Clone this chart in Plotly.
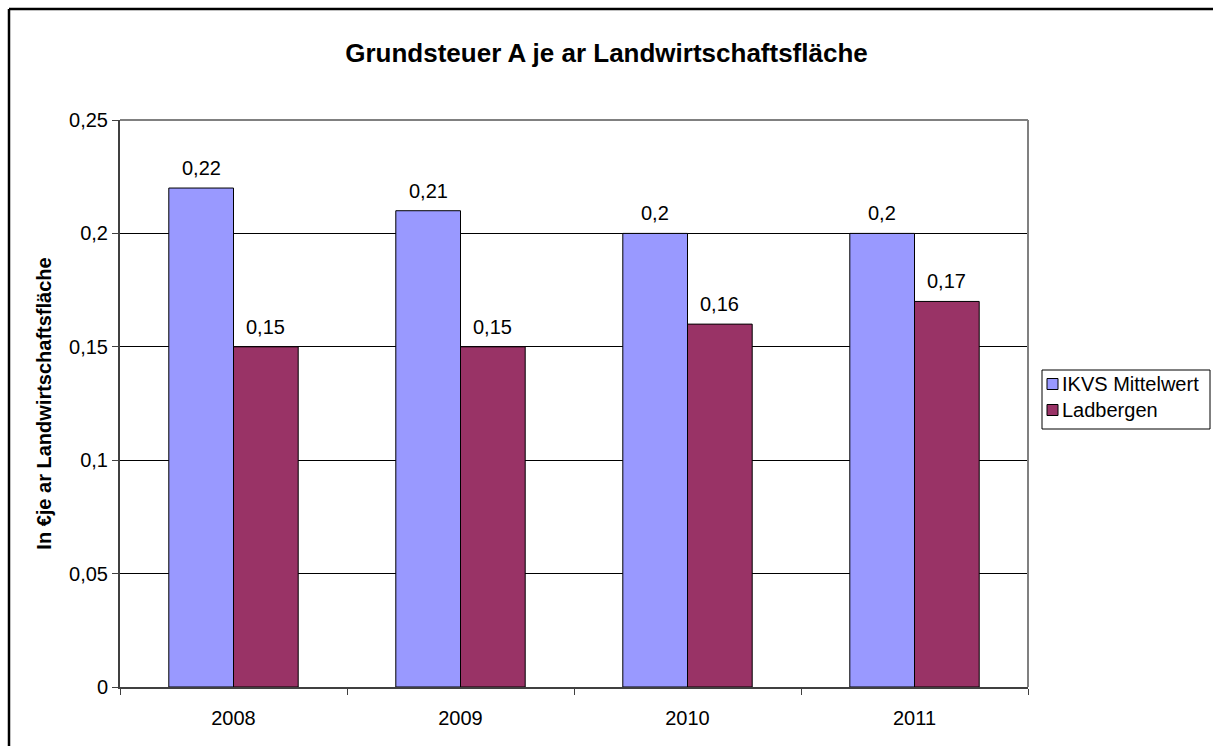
import plotly.graph_objects as go

years = ["2008", "2009", "2010", "2011"]
ikvs_mittelwert = [0.22, 0.21, 0.20, 0.20]
ladbergen = [0.15, 0.15, 0.16, 0.17]
series_names = ["IKVS Mittelwert", "Ladbergen"]
series_colors = ["#9999FF", "#993366"]
y_ticks = [0, 0.05, 0.1, 0.15, 0.2, 0.25]

FONT = "Liberation Sans, Arial, sans-serif"
BARGAP = 0.43


def de_label(v):
    return f"{v:g}".replace(".", ",")


W, H = 1213, 746
L, R, T, B = 120, 185, 120, 59
pw, ph = W - L - R, H - T - B


def px_x(x):
    return (x - L) / pw


def px_y(y):
    return (H - B - y) / ph


fig = go.Figure()
series = [ikvs_mittelwert, ladbergen]
annotations = []
bar_w = (1 - BARGAP) / len(series)
for k, (name, vals, color) in enumerate(zip(series_names, series, series_colors)):
    fig.add_trace(go.Bar(
        x=years, y=vals, name=name, showlegend=False,
        marker=dict(color=color, line=dict(color="#000000", width=1)),
    ))
    # value labels above each bar
    offset = (k - (len(series) - 1) / 2) * bar_w
    for i, v in enumerate(vals):
        annotations.append(dict(
            x=i + offset, y=v, xref="x", yref="y", text=de_label(v),
            showarrow=False, yanchor="bottom", yshift=7,
            font=dict(family=FONT, size=20, color="#000000"),
        ))

# legend box drawn by hand so it sits tight against the right edge
legend_rows = [384, 410]
shapes = [
    dict(type="rect", xref="paper", yref="paper",
         x0=px_x(1042), x1=px_x(1210), y0=px_y(429), y1=px_y(370),
         line=dict(color="#000000", width=1), fillcolor="#FFFFFF", layer="above"),
]
for name, color, ry in zip(series_names, series_colors, legend_rows):
    shapes.append(dict(type="rect", xref="paper", yref="paper",
                       x0=px_x(1047), x1=px_x(1058), y0=px_y(ry + 5.5), y1=px_y(ry - 5.5),
                       line=dict(color="#000000", width=1), fillcolor=color, layer="above"))
    annotations.append(dict(
        x=px_x(1060), y=px_y(ry), xref="paper", yref="paper", text=name,
        showarrow=False, xanchor="left", yanchor="middle",
        font=dict(family=FONT, size=20, color="#000000"),
    ))

frame_x, frame_y = px_x(9), px_y(9)
shapes += [
    # plot area border (top and right)
    dict(type="line", xref="paper", yref="paper", x0=0, x1=1, y0=1, y1=1,
         line=dict(color="#808080", width=2), layer="above"),
    dict(type="line", xref="paper", yref="paper", x0=1, x1=1, y0=0, y1=1,
         line=dict(color="#808080", width=2), layer="above"),
    # outer chart frame: only its left and top edges fall inside the page
    dict(type="line", xref="paper", yref="paper",
         x0=frame_x, x1=frame_x, y0=px_y(W), y1=frame_y,
         line=dict(color="#000000", width=2.5), layer="above"),
    dict(type="line", xref="paper", yref="paper",
         x0=frame_x, x1=px_x(W), y0=frame_y, y1=frame_y,
         line=dict(color="#000000", width=2.5), layer="above"),
]

fig.update_layout(
    width=W, height=H,
    margin=dict(l=L, r=R, t=T, b=B, autoexpand=False),
    paper_bgcolor="#FFFFFF", plot_bgcolor="#FFFFFF",
    separators=",.",
    barmode="group", bargap=BARGAP, bargroupgap=0,
    showlegend=False,
    font=dict(family=FONT, color="#000000"),
    title=dict(
        text="<b>Grundsteuer A je ar Landwirtschaftsfläche</b>",
        x=0.5, xanchor="center", y=1 - 53 / H, yanchor="middle",
        font=dict(family=FONT, size=26, color="#000000"),
    ),
    xaxis=dict(
        type="category", showgrid=False,
        showline=True, linecolor="#404040", linewidth=2,
        ticks="outside", tickson="boundaries", ticklen=6, tickcolor="#404040", tickwidth=1,
        ticklabelstandoff=12,
        tickfont=dict(family=FONT, size=20, color="#000000"),
    ),
    yaxis=dict(
        range=[0, 0.25], tickvals=y_ticks,
        showgrid=True, gridcolor="#000000", gridwidth=1,
        showline=True, linecolor="#404040", linewidth=2,
        ticks="outside", ticklen=6, tickcolor="#404040", tickwidth=1,
        tickfont=dict(family=FONT, size=20, color="#000000"),
        zeroline=False,
        title=dict(text="<b>In €je ar Landwirtschaftsfläche</b>",
                   font=dict(family=FONT, size=20, color="#000000"), standoff=12),
    ),
    annotations=annotations,
    shapes=shapes,
)

fig.write_html("out.html")
